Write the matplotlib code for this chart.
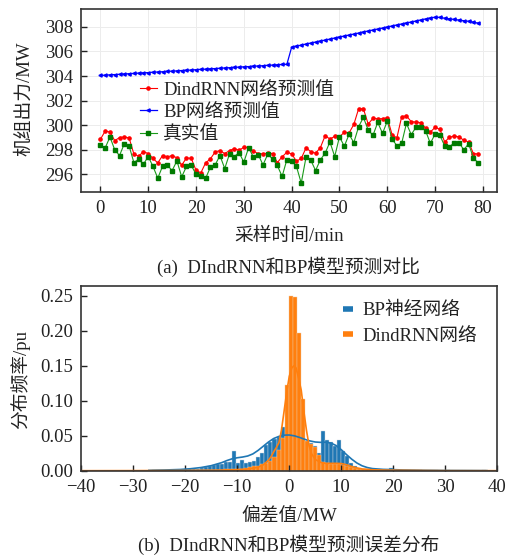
import numpy as np
import matplotlib
matplotlib.use("Agg")
import matplotlib.pyplot as plt
from matplotlib.lines import Line2D

plt.rcParams['font.family'] = ['Liberation Serif', 'Noto Sans CJK SC']
plt.rcParams['axes.unicode_minus'] = True

TEXT = '#222222'

# (a) predicted vs actual unit output, one point per minute
minutes = list(range(80))

dindrnn_pred = [
    298.86, 299.53, 299.45, 298.75, 299.00, 299.05, 298.97, 297.67, 297.48, 297.86,
    297.70, 297.30, 296.94, 297.54, 297.43, 297.54, 297.35, 296.75, 297.35, 297.30,
    296.35, 296.13, 296.94, 297.27, 297.83, 297.94, 297.70, 297.94, 298.10, 297.97,
    298.21, 298.18, 297.89, 297.70, 297.67, 297.73, 297.70, 296.97, 297.43, 297.81,
    297.67, 297.08, 297.30, 298.16, 297.86, 297.73, 298.18, 299.15, 298.88, 299.10,
    299.07, 299.42, 299.37, 300.07, 301.34, 301.34, 300.10, 300.56, 300.53, 300.53,
    300.61, 299.24, 298.97, 300.69, 300.77, 300.29, 300.26, 300.21, 299.77, 299.45,
    299.83, 299.67, 298.64, 299.02, 299.13, 299.05, 298.78, 298.64, 297.70, 297.67,
]

bp_pred = [
    304.05, 304.07, 304.10, 304.12, 304.14, 304.17, 304.19, 304.21, 304.24, 304.26,
    304.28, 304.31, 304.33, 304.35, 304.38, 304.40, 304.42, 304.45, 304.47, 304.49,
    304.52, 304.54, 304.56, 304.59, 304.61, 304.63, 304.66, 304.68, 304.70, 304.73,
    304.75, 304.77, 304.80, 304.82, 304.84, 304.87, 304.89, 304.91, 304.94, 304.96,
    306.35, 306.43, 306.51, 306.60, 306.68, 306.76, 306.84, 306.92, 307.00, 307.09,
    307.17, 307.25, 307.33, 307.41, 307.49, 307.58, 307.66, 307.74, 307.82, 307.90,
    307.98, 308.07, 308.15, 308.23, 308.31, 308.39, 308.47, 308.56, 308.64, 308.72,
    308.78, 308.77, 308.70, 308.65, 308.60, 308.55, 308.50, 308.45, 308.38, 308.30,
]

actual = [
    298.37, 298.16, 299.05, 298.00, 297.54, 298.50, 298.32, 296.97, 297.24, 296.83,
    297.46, 296.65, 295.70, 296.67, 296.75, 296.32, 297.10, 295.81, 296.65, 296.75,
    296.00, 295.84, 295.68, 296.59, 296.78, 297.54, 296.48, 297.67, 297.46, 297.78,
    297.00, 298.18, 297.40, 297.62, 296.78, 297.64, 297.27, 296.73, 295.84, 297.21,
    297.10, 296.65, 295.30, 297.40, 297.16, 296.32, 297.19, 297.73, 298.64, 297.46,
    299.07, 298.29, 299.26, 298.59, 299.88, 300.64, 299.61, 299.18, 300.23, 299.34,
    300.34, 298.86, 298.35, 298.53, 300.15, 299.24, 299.83, 299.83, 299.56, 298.53,
    299.29, 299.18, 298.32, 298.24, 298.59, 298.59, 298.00, 298.50, 297.35, 296.94,
]

# (b) error histograms (probability per bin, shared bins)
bin_start = -26.48
bin_width = 0.775

bp_hist = [
    0.001, 0.0005, 0.0005, 0.001, 0.0005, 0.001, 0.001, 0.0015, 0.002, 0.002,
    0.0025, 0.003, 0.004, 0.005, 0.006, 0.0075, 0.009, 0.010, 0.012, 0.013,
    0.028, 0.011, 0.016, 0.011, 0.012, 0.014, 0.020, 0.025, 0.037, 0.041,
    0.045, 0.048, 0.063, 0.050, 0.048, 0.045, 0.038, 0.030, 0.030, 0.040,
    0.035, 0.025, 0.057, 0.0445, 0.041, 0.035, 0.0435, 0.028, 0.021, 0.011,
    0.006, 0.004, 0.003, 0.002, 0.0015, 0.001, 0.001, 0.001, 0.001, 0.004,
    0.001, 0.001, 0.0005, 0.0005, 0.0005, 0.0005, 0.0005, 0.0, 0.0, 0.0005,
    0.001, 0.0, 0.0, 0.001, 0.0, 0.0, 0.0, 0.0, 0.0, 0.0,
    0.0, 0.0, 0.0015, 0.0,
]

dindrnn_hist = [
    0.0005, 0.0005, 0.0005, 0.0005, 0.0005, 0.0005, 0.0005, 0.0005, 0.001, 0.001,
    0.001, 0.001, 0.001, 0.001, 0.001, 0.001, 0.0015, 0.0015, 0.002, 0.002,
    0.002, 0.003, 0.003, 0.004, 0.005, 0.006, 0.007, 0.009, 0.011, 0.014,
    0.019, 0.030, 0.047, 0.122, 0.250, 0.248, 0.197, 0.102, 0.042, 0.038,
    0.034, 0.022, 0.013, 0.011, 0.010, 0.010, 0.009, 0.008, 0.006, 0.005,
    0.004, 0.003, 0.003, 0.002, 0.002, 0.0015, 0.0015, 0.001, 0.001, 0.001,
    0.001, 0.0005, 0.0005, 0.0005, 0.0005, 0.0005, 0.0005, 0.0, 0.0, 0.0,
    0.0, 0.0, 0.0, 0.0, 0.0, 0.0, 0.0, 0.0, 0.0, 0.0,
    0.0, 0.0, 0.0, 0.0,
]

# density curves
bp_kde_x = [-27, -24, -21, -19, -17, -15, -13, -12, -11, -10, -9, -8, -7, -6, -5,
            -4, -3, -2, -1, 0, 1, 2, 3, 4, 5, 6, 7, 8, 9, 10, 11, 12, 13, 14,
            15, 16, 18, 20, 22, 25, 30, 35, 38]
bp_kde_y = [0.0005, 0.001, 0.0017, 0.0028, 0.0045, 0.0072, 0.0115, 0.0145, 0.017,
            0.0185, 0.0195, 0.021, 0.024, 0.029, 0.035, 0.041, 0.046, 0.049, 0.0508,
            0.051, 0.0498, 0.0475, 0.0448, 0.0425, 0.041, 0.0405, 0.0407, 0.0395,
            0.036, 0.030, 0.023, 0.0165, 0.011, 0.007, 0.0045, 0.003, 0.0019,
            0.0015, 0.001, 0.0006, 0.0003, 0.0002, 0.0001]

dindrnn_kde_x = [-40, -30, -20, -15, -12, -10, -8, -7, -6, -5, -4, -3.5, -3, -2.5,
                 -2, -1.5, -1, -0.5, 0, 0.5, 0.9, 1.3, 1.8, 2.3, 2.8, 3.3, 3.8, 4.3,
                 5, 6, 7, 8, 9, 10, 11, 12, 13, 14, 16, 18, 20, 23, 26, 30, 40]
dindrnn_kde_y = [0.0, 0.0001, 0.0003, 0.0006, 0.001, 0.0015, 0.0025, 0.0035, 0.005,
                 0.0085, 0.015, 0.02, 0.027, 0.033, 0.040, 0.058, 0.085, 0.112,
                 0.135, 0.147, 0.150, 0.147, 0.132, 0.115, 0.085, 0.058, 0.036,
                 0.024, 0.016, 0.012, 0.0105, 0.0105, 0.0105, 0.0102, 0.0085, 0.006,
                 0.004, 0.0025, 0.0013, 0.0009, 0.0007, 0.0005, 0.0003, 0.0001, 0.0]

fig = plt.figure(figsize=(5.08, 5.55), dpi=100)
ax1 = fig.add_axes([0.160, 0.6546, 0.8189, 0.3292])
ax2 = fig.add_axes([0.160, 0.1519, 0.8189, 0.3328])

# ---- (a)
ax1.plot(minutes, dindrnn_pred, color='#ff0000', lw=0.8, marker='o', ms=2.3,
         label='DindRNN网络预测值')
ax1.plot(minutes, bp_pred, color='#0000ff', lw=0.9, marker='<', ms=2.3,
         label='BP网络预测值')
ax1.plot(minutes, actual, color='#1a9a1a', lw=0.8, marker='s', ms=2.3,
         mfc='#007a00', mec='#007a00', label='真实值')
ax1.set_xlim(-4, 83)
ax1.set_ylim(294.6, 309.45)
ax1.set_xticks([0, 10, 20, 30, 40, 50, 60, 70, 80])
ax1.set_yticks([296, 298, 300, 302, 304, 306, 308])
ax1.grid(True, color='#ececec', lw=0.7)
ax1.set_axisbelow(True)
ax1.legend(loc='upper left', bbox_to_anchor=(0.141, 0.603), frameon=False,
           fontsize=13.5, borderpad=0, borderaxespad=0, handlelength=0.9,
           handletextpad=0.35, labelspacing=0.28, labelcolor=TEXT)

# ---- (b)
edges = bin_start + bin_width * np.arange(len(bp_hist))
ax2.bar(edges, bp_hist, width=bin_width, align='edge', color='#1f77b4',
        edgecolor='#d0d8e0', lw=0.3)
ax2.bar(edges, dindrnn_hist, width=bin_width, align='edge', color='#ff7f0e',
        edgecolor='#f0c8a0', lw=0.3)
ax2.plot(bp_kde_x, bp_kde_y, color='#1f77b4', lw=1.2)
ax2.plot(dindrnn_kde_x, dindrnn_kde_y, color='#ff7f0e', lw=1.2)
ax2.set_xlim(-40, 40)
ax2.set_ylim(0, 0.264)
ax2.set_xticks([-40, -30, -20, -10, 0, 10, 20, 30, 40])
ax2.set_yticks([0.0, 0.05, 0.10, 0.15, 0.20, 0.25])
ax2.set_yticklabels(['0.00', '0.05', '0.10', '0.15', '0.20', '0.25'])
handles = [Line2D([], [], color='#1f77b4', lw=4, solid_capstyle='butt'),
           Line2D([], [], color='#ff7f0e', lw=4, solid_capstyle='butt')]
ax2.legend(handles, ['BP神经网络', 'DindRNN网络'], loc='upper left',
           bbox_to_anchor=(0.629, 0.914), frameon=False, fontsize=13.5,
           borderpad=0, borderaxespad=0, handlelength=0.55, handletextpad=0.5,
           labelspacing=0.45, labelcolor=TEXT)

for ax in (ax1, ax2):
    ax.tick_params(direction='in', length=4, width=1, labelsize=13.5,
                   colors='#222222', pad=6)
    for s in ax.spines.values():
        s.set_linewidth(1.2)
        s.set_color('#333333')

fig.text(0.569, 0.5735, '采样时间/min', ha='center', va='center', fontsize=13.5, color=TEXT)
fig.text(0.567, 0.5195, '(a)  DIndRNN和BP模型预测对比', ha='center', va='center',
         fontsize=13.5, color=TEXT)
fig.text(0.049, 0.8216, '机组出力/MW', ha='center', va='center', rotation=90,
         fontsize=13.5, color=TEXT)
fig.text(0.569, 0.0703, '偏差值/MW', ha='center', va='center', fontsize=13.5, color=TEXT)
fig.text(0.5675, 0.018, '(b)  DIndRNN和BP模型预测误差分布', ha='center', va='center',
         fontsize=13.5, color=TEXT)
fig.text(0.039, 0.317, '分布频率/pu', ha='center', va='center', rotation=90,
         fontsize=13.5, color=TEXT)

fig.savefig('out.png', dpi=100)
